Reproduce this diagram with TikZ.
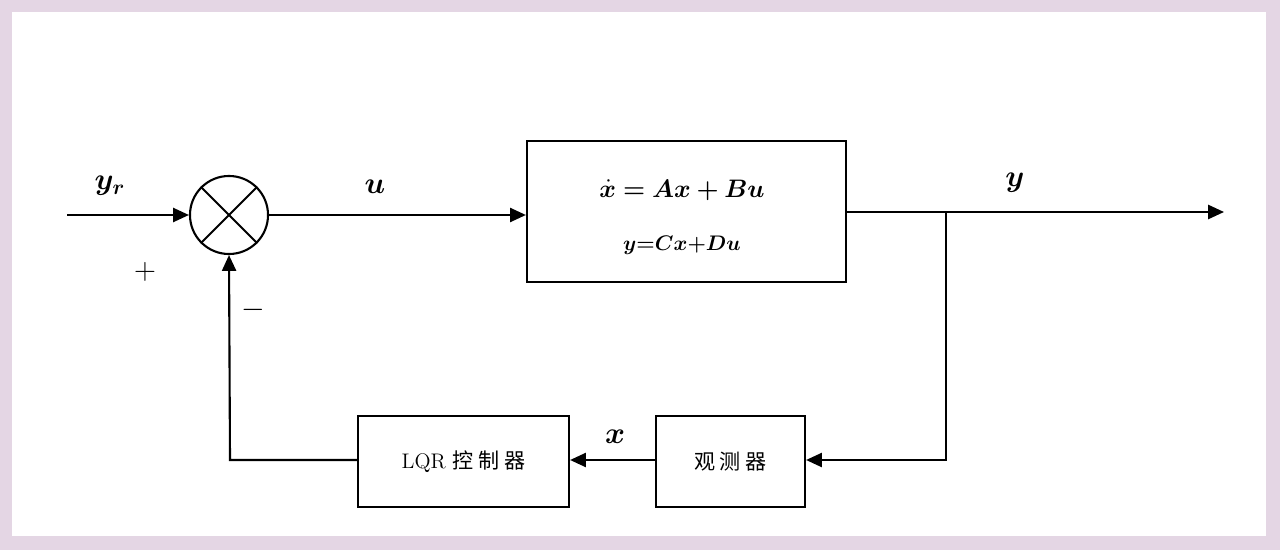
\documentclass[tikz,border=0pt]{standalone}
\usepackage{amsmath,bm}
\usepackage{fontspec}
\newfontfamily\cjk{Noto Sans CJK SC}
\usetikzlibrary{arrows.meta}
\begin{document}
\begin{tikzpicture}[x=0.02cm,y=-0.02cm,
  blk/.style={draw,line width=1.2pt,minimum width=#1,inner sep=0pt},
  ln/.style={line width=1.2pt},
  arr/.style={ln,-{Triangle[length=9pt,width=8pt]}},
  lbl/.style={font=\LARGE}]
\fill[fill={rgb,255:red,228;green,214;blue,228}] (0,0) rectangle (1280,550);
\fill[white] (12,12) rectangle (1266,536);
\useasboundingbox (0,0) rectangle (1280,550);
\node[draw,circle,ln,minimum size=78pt*0.5694,inner sep=0pt] (sum) at (229,215) {};
\draw[ln] (sum.north west) -- (sum.south east) (sum.north east) -- (sum.south west);
\coordinate (in) at (67,215);
\node[blk,minimum width=319*0.5694pt,minimum height=141*0.5694pt] (plant) at (686.5,211.5) {};
\node[font=\Large] at (682,190) {$\bm{\dot{x}=Ax+Bu}$};
\node[font=\large] at (682,245) {$\bm{y{=}Cx{+}Du}$};
\node[blk,minimum width=149*0.5694pt,minimum height=91*0.5694pt,font=\large] (obs) at (730.5,461.5) {\cjk 观 测 器};
\node[blk,minimum width=211*0.5694pt,minimum height=91*0.5694pt,font=\large] (lqr) at (463.5,461.5) {LQR {\cjk 控 制 器}};
\coordinate (out) at (1224,212);
\coordinate (br) at (946,212);
\coordinate (corner1) at (946,460);
\coordinate (corner2) at (230,460);
\draw[arr] (in) -- (sum.west);
\draw[arr] (sum.east) -- (sum.east -| plant.west);
\draw[arr] (plant.east |- br) -- (out);
\draw[arr] (br) -- (corner1) -- (obs.east |- corner1);
\draw[arr] (obs.west |- corner1) -- (lqr.east |- corner1);
\draw[arr] (lqr.west |- corner1) -- (corner2) -- (sum.south);
\node[lbl] at (110,186) {$\bm{y_r}$};
\node[lbl] at (375,187) {$\bm{u}$};
\node[lbl] at (1015,183) {$\bm{y}$};
\node[lbl] at (615,437) {$\bm{x}$};
\node[lbl] at (145,272) {$+$};
\node[lbl] at (253,310) {$-$};
\end{tikzpicture}
\end{document}
